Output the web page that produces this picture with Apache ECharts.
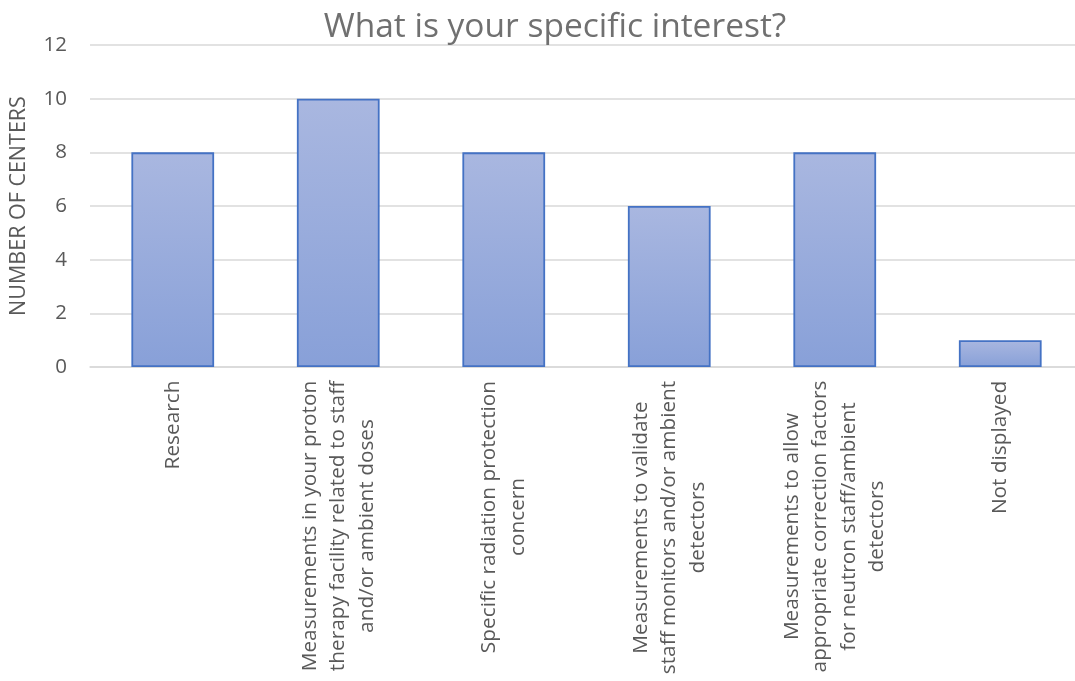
<!DOCTYPE html>
<html>
<head>
<meta charset="utf-8">
<script src="https://cdn.jsdelivr.net/npm/echarts@6/dist/echarts.min.js"></script>
<style>
html,body{margin:0;padding:0;background:#fff;}
#chart{width:1075px;height:681px;}
</style>
</head>
<body>
<div id="chart"></div>
<script>
// Data
const titleText = 'What is your specific interest?';
const yAxisName = 'NUMBER OF CENTERS';
const categories = [
  'Research',
  'Measurements in your proton\ntherapy facility related to staff\nand/or ambient doses',
  'Specific radiation protection\nconcern',
  'Measurements to validate\nstaff monitors and/or ambient\ndetectors',
  'Measurements to allow\nappropriate correction factors\nfor neutron staff/ambient\ndetectors',
  'Not displayed'
];
const values = [8, 10, 8, 6, 8, 1];
const yMin = 0, yMax = 12, yStep = 2;

const FONT = '"Open Sans", "Liberation Sans", sans-serif';
const LABEL_SIZE = 20.8;
const TEXT_COLOR = '#595959';

// measure longest line of each category label to center lines within the block
const ctx = document.createElement('canvas').getContext('2d');
ctx.font = LABEL_SIZE + 'px ' + FONT;
const rich = {};
categories.forEach((c, i) => {
  const w = Math.max(...c.split('\n').map(l => ctx.measureText(l).width));
  rich['r' + i] = {
    width: Math.ceil(w) + 1,
    align: 'center',
    fontFamily: FONT,
    fontSize: LABEL_SIZE,
    color: TEXT_COLOR,
    lineHeight: 28.5
  };
});

const chart = echarts.init(document.getElementById('chart'), null, {renderer: 'canvas'});
chart.setOption({
  animation: false,
  backgroundColor: '#ffffff',
  title: {
    text: titleText,
    left: 550,
    textAlign: 'center',
    top: 5,
    textStyle: {fontFamily: FONT, fontSize: 33.5, fontWeight: 'normal', color: '#707070'}
  },
  grid: {left: 90, width: 993, top: 45, bottom: 314, containLabel: false, outerBoundsMode: 'none'},
  xAxis: {
    type: 'category',
    data: categories,
    axisLine: {show: true, lineStyle: {color: '#d9d9d9', width: 1.5}},
    axisTick: {show: false},
    axisLabel: {
      interval: 0,
      rotate: 90,
      margin: 13,
      formatter: (v, idx) => v.split('\n').map(l => '{r' + idx + '|' + l + '}').join('\n'),
      rich: rich
    }
  },
  yAxis: {
    type: 'value',
    min: yMin, max: yMax, interval: yStep,
    name: yAxisName,
    nameLocation: 'middle',
    nameRotate: 90,
    nameGap: 60,
    nameTextStyle: {fontFamily: FONT, fontSize: 21.5, color: TEXT_COLOR, padding: [0, 0, 0, 0]},
    axisLine: {show: false},
    axisTick: {show: false},
    axisLabel: {fontFamily: FONT, fontSize: 20.5, color: TEXT_COLOR, margin: 23},
    splitLine: {lineStyle: {color: '#d9d9d9', width: 1.5}}
  },
  series: [{
    type: 'bar',
    data: values,
    barWidth: '50%',
    itemStyle: {
      color: new echarts.graphic.LinearGradient(0, 0, 0, 1, [
        {offset: 0, color: '#a9b7e0'},
        {offset: 1, color: '#88a0d8'}
      ]),
      borderColor: '#4472c4',
      borderWidth: 1.8
    }
  }]
});
</script>
</body>
</html>
